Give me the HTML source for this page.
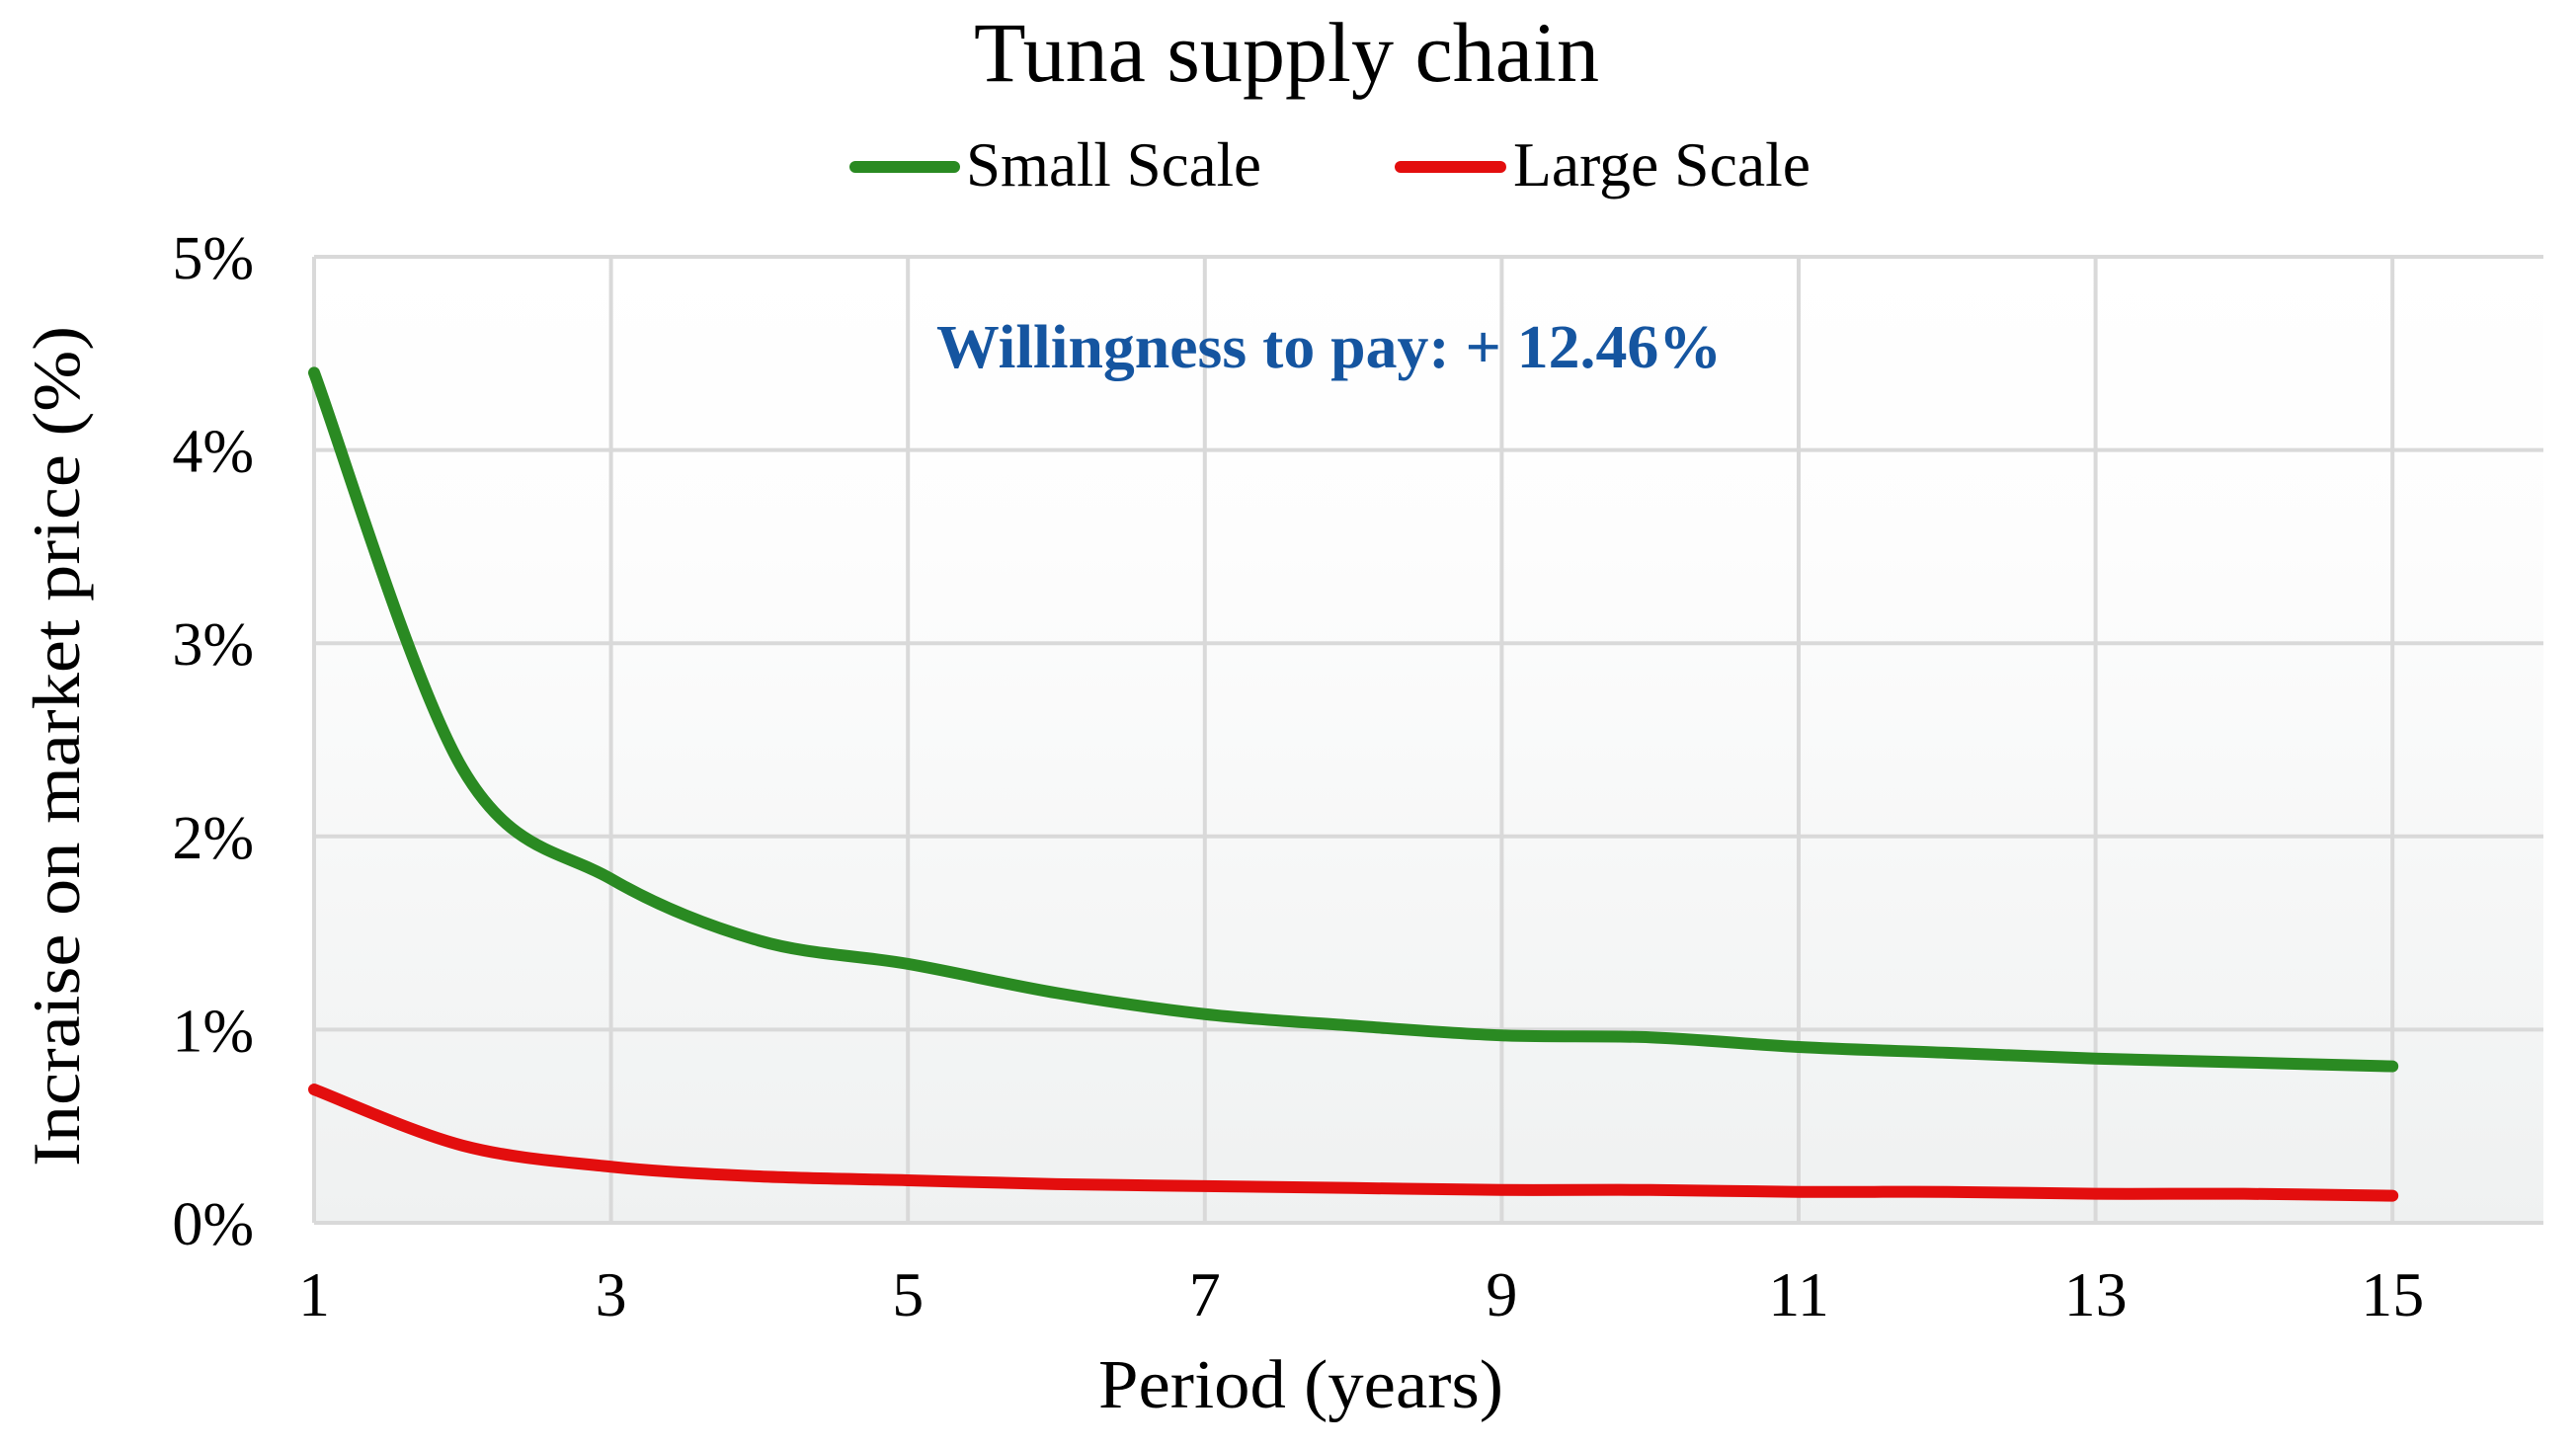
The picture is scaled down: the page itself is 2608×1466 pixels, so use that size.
<!DOCTYPE html>
<html><head><meta charset="utf-8"><style>
html,body{margin:0;padding:0;background:#fff;}
svg{display:block;}
text{font-family:"Liberation Serif",serif;}
</style></head><body>
<svg id="chart" width="2608" height="1466" viewBox="0 0 2608 1466" xmlns="http://www.w3.org/2000/svg">
<defs>
<linearGradient id="bg" x1="0" y1="0" x2="0" y2="1">
<stop offset="0" stop-color="#ffffff"/>
<stop offset="0.3" stop-color="#fdfdfd"/>
<stop offset="1" stop-color="#eff1f1"/>
</linearGradient>
</defs>
<rect x="318" y="260" width="2257" height="978" fill="url(#bg)"/>
<g id="grid"></g>
<g id="series"></g>
<g id="ticks"></g>
<text x="986" y="82" font-size="86" textLength="633" lengthAdjust="spacingAndGlyphs">Tuna supply chain</text>
<g>
<g>
<line x1="866" y1="169" x2="966" y2="169" stroke="#2a8a22" stroke-width="12" stroke-linecap="round"/>
<text x="978" y="188" font-size="64" textLength="299" lengthAdjust="spacingAndGlyphs">Small Scale</text>
</g>
<g>
<line x1="1418" y1="169" x2="1519" y2="169" stroke="#e30e0e" stroke-width="12" stroke-linecap="round"/>
<text x="1532" y="188" font-size="64" textLength="301" lengthAdjust="spacingAndGlyphs">Large Scale</text>
</g>
</g>
<text x="948" y="372" font-size="62" font-weight="bold" fill="#1555a0" textLength="795" lengthAdjust="spacingAndGlyphs">Willingness to pay: + 12.46%</text>
<text transform="translate(80,1181) rotate(-90)" font-size="68" textLength="851" lengthAdjust="spacingAndGlyphs">Incraise on market price (%)</text>
<text x="1112" y="1425" font-size="70" textLength="410" lengthAdjust="spacingAndGlyphs">Period (years)</text>
</svg>
<script>
const periods = [1,2,3,4,5,6,7,8,9,10,11,12,13,14,15];
const smallScale = [4.40,2.35,1.78,1.46,1.34,1.19,1.08,1.02,0.97,0.96,0.91,0.88,0.85,0.83,0.81];
const largeScale = [0.69,0.40,0.29,0.24,0.22,0.20,0.19,0.18,0.17,0.17,0.16,0.16,0.15,0.15,0.14];
const yTicks = [0,1,2,3,4,5];
const yTickLabels = ["0%","1%","2%","3%","4%","5%"];
const xTicks = [1,3,5,7,9,11,13,15];
const xTickLabels = ["1","3","5","7","9","11","13","15"];

const NS = "http://www.w3.org/2000/svg";
const L = 318, R = 2575, T = 260, B = 1238;
function xs(v){ return 318 + (v - 1) * 150.3; }
function ys(v){ return B - (v / 5) * (B - T); }

const grid = document.getElementById('grid');
yTicks.forEach(function(t, i){
  const ln = document.createElementNS(NS, 'line');
  
  
  ln.setAttribute('x1', L); ln.setAttribute('x2', R);
  ln.setAttribute('y1', ys(t)); ln.setAttribute('y2', ys(t));
  ln.setAttribute('stroke', '#d9d9d9'); ln.setAttribute('stroke-width', '4');
  grid.appendChild(ln);
});
xTicks.forEach(function(t){
  const ln = document.createElementNS(NS, 'line');
  
  
  ln.setAttribute('x1', xs(t)); ln.setAttribute('x2', xs(t));
  ln.setAttribute('y1', T); ln.setAttribute('y2', B);
  ln.setAttribute('stroke', '#d9d9d9'); ln.setAttribute('stroke-width', '4');
  grid.appendChild(ln);
});

const ticks = document.getElementById('ticks');
yTicks.forEach(function(t, i){
  const tx = document.createElementNS(NS, 'text');
  
  
  tx.setAttribute('x', 257); tx.setAttribute('y', ys(t) + 22);
  tx.setAttribute('text-anchor', 'end'); tx.setAttribute('font-size', '62');
  tx.textContent = yTickLabels[i];
  ticks.appendChild(tx);
});
xTicks.forEach(function(t, i){
  const tx = document.createElementNS(NS, 'text');
  
  
  tx.setAttribute('x', xs(t)); tx.setAttribute('y', 1332);
  tx.setAttribute('text-anchor', 'middle'); tx.setAttribute('font-size', '64');
  tx.textContent = xTickLabels[i];
  ticks.appendChild(tx);
});

function smoothPath(xv, yv){
  const p = xv.map(function(x, i){ return [xs(x), ys(yv[i])]; });
  let d = 'M' + p[0][0] + ',' + p[0][1];
  for (let i = 0; i < p.length - 1; i++){
    const p0 = p[i-1] || p[i], p1 = p[i], p2 = p[i+1], p3 = p[i+2] || p[i+1];
    const t = 1/6;
    const c1 = [p1[0] + (p2[0]-p0[0])*t, p1[1] + (p2[1]-p0[1])*t];
    const c2 = [p2[0] - (p3[0]-p1[0])*t, p2[1] - (p3[1]-p1[1])*t];
    d += ' C' + c1[0] + ',' + c1[1] + ' ' + c2[0] + ',' + c2[1] + ' ' + p2[0] + ',' + p2[1];
  }
  return d;
}
const series = document.getElementById('series');
const g1 = document.createElementNS(NS, 'path');


g1.setAttribute('d', smoothPath(periods, smallScale));
g1.setAttribute('fill', 'none'); g1.setAttribute('stroke', '#2a8a22');
g1.setAttribute('stroke-width', '12'); g1.setAttribute('stroke-linecap', 'round');
series.appendChild(g1);
const g2 = document.createElementNS(NS, 'path');


g2.setAttribute('d', smoothPath(periods, largeScale));
g2.setAttribute('fill', 'none'); g2.setAttribute('stroke', '#e30e0e');
g2.setAttribute('stroke-width', '12'); g2.setAttribute('stroke-linecap', 'round');
series.appendChild(g2);
</script>
</body></html>
